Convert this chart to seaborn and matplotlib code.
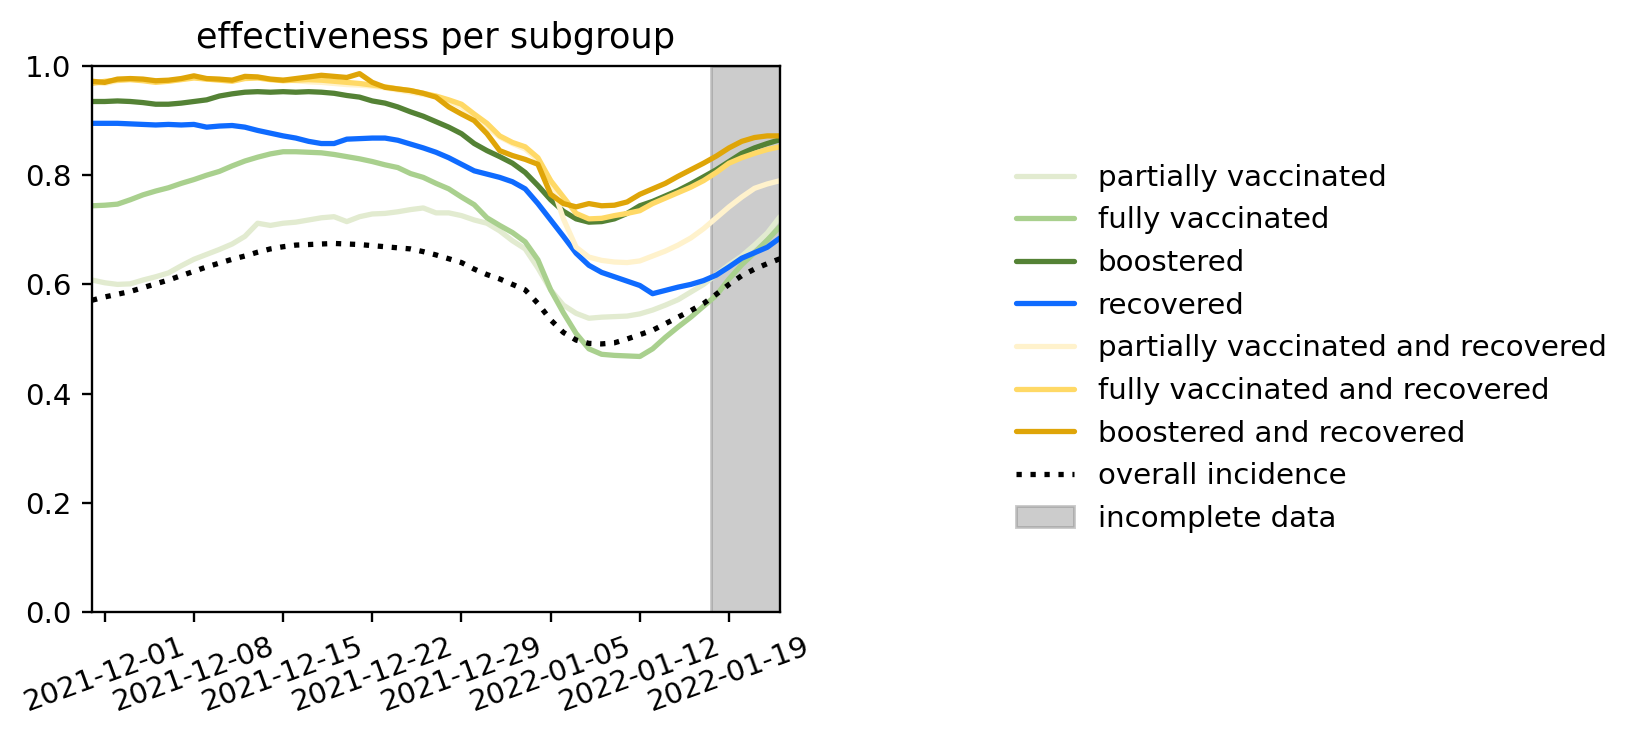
import numpy as np
import pandas as pd
import matplotlib
matplotlib.use("Agg")
import matplotlib.pyplot as plt
import matplotlib.dates as mdates
import seaborn as sns

# daily values, 2021-11-30 .. 2022-01-23
dates = pd.date_range("2021-11-30", "2022-01-23", freq="D")
incomplete_from = pd.Timestamp("2022-01-17 14:00")

partially_vaccinated = [.608, .603, .600, .601, .608, .614, .621, .634, .646, .655, .664, .674, .688, .712,
                        .708, .712, .714, .718, .722, .724, .715, .724, .729, .730, .733, .737, .740, .731,
                        .731, .726, .718, .712, .698, .680, .665, .630, .590, .562, .547, .538, .540, .541,
                        .542, .546, .553, .562, .572, .586, .600, .618, .636, .652, .672, .694, .724]
fully_vaccinated = [.744, .745, .747, .755, .764, .771, .777, .785, .792, .800, .807, .817, .826, .833,
                    .839, .843, .843, .842, .841, .838, .834, .830, .825, .819, .814, .803, .796, .785,
                    .775, .760, .746, .722, .708, .695, .678, .645, .590, .548, .510, .482, .472, .470,
                    .469, .468, .482, .503, .522, .540, .560, .580, .610, .636, .658, .681, .706]
boostered = [.935, .935, .936, .935, .933, .930, .930, .932, .935, .938, .945, .949, .952, .953,
             .952, .953, .952, .953, .952, .950, .946, .943, .936, .932, .925, .916, .908, .898,
             .888, .876, .858, .845, .834, .822, .805, .781, .755, .734, .720, .714, .715, .720,
             .730, .744, .752, .762, .772, .784, .797, .810, .825, .840, .850, .858, .865]
recovered = [.895, .895, .895, .894, .893, .892, .893, .892, .893, .888, .890, .891, .888, .882,
             .877, .872, .868, .862, .858, .858, .866, .867, .868, .868, .864, .857, .850, .842,
             .832, .820, .808, .802, .796, .788, .775, .748, .718, .688, .657, .635, .622, .614,
             .606, .598, .583, .589, .595, .600, .607, .617, .632, .648, .658, .668, .685]
part_vacc_recovered = [.970, .968, .973, .976, .974, .972, .973, .976, .979, .976, .975, .975, .979, .979,
                       .976, .975, .973, .971, .970, .968, .966, .965, .963, .960, .956, .952, .948, .944,
                       .936, .925, .905, .888, .870, .858, .848, .828, .790, .720, .668, .650, .644, .641,
                       .640, .643, .652, .661, .672, .685, .702, .722, .742, .760, .776, .784, .790]
fully_vacc_recovered = [.968, .972, .974, .975, .973, .970, .972, .975, .978, .976, .974, .972, .977, .978,
                        .975, .973, .974, .975, .974, .972, .970, .968, .965, .962, .958, .955, .950, .945,
                        .938, .930, .912, .895, .872, .860, .852, .832, .790, .760, .730, .720, .721, .726,
                        .730, .735, .748, .758, .768, .778, .790, .805, .822, .832, .840, .847, .852]
boostered_recovered = [.972, .970, .976, .977, .976, .973, .974, .977, .982, .977, .976, .974, .981, .980,
                       .976, .974, .977, .980, .983, .981, .979, .986, .970, .961, .958, .955, .950, .943,
                       .925, .912, .900, .876, .845, .836, .829, .820, .765, .748, .742, .748, .744, .745,
                       .751, .765, .775, .785, .798, .810, .822, .835, .850, .862, .869, .872, .872]
overall_incidence = [.571, .577, .582, .587, .594, .601, .608, .616, .624, .632, .639, .646, .652, .659,
                     .665, .669, .672, .673, .674, .675, .674, .673, .671, .669, .667, .665, .660, .654,
                     .647, .640, .628, .618, .610, .600, .590, .565, .535, .512, .498, .492, .491, .493,
                     .500, .508, .516, .528, .540, .552, .565, .582, .600, .616, .628, .638, .647]

series = [
    ("partially vaccinated", partially_vaccinated, "#e2ebd0", "-"),
    ("fully vaccinated", fully_vaccinated, "#a9d08e", "-"),
    ("boostered", boostered, "#548235", "-"),
    ("recovered", recovered, "#0f6bff", "-"),
    ("partially vaccinated and recovered", part_vacc_recovered, "#fff2cc", "-"),
    ("fully vaccinated and recovered", fully_vacc_recovered, "#ffd966", "-"),
    ("boostered and recovered", boostered_recovered, "#dfa508", "-"),
    ("overall incidence", overall_incidence, "black", ":"),
]

sns.set_style("ticks", {"axes.edgecolor": "black", "text.color": "black",
                        "xtick.color": "black", "ytick.color": "black"})

fig = plt.figure(figsize=(1649 / 211, 746 / 211), dpi=211)
ax = fig.add_axes([92 / 1649, 1 - 612 / 746, (780 - 92) / 1649, (612 - 66) / 746])

for name, vals, col, ls in series:
    sns.lineplot(x=dates, y=vals, color=col, linestyle=ls, linewidth=1.8, label=name, ax=ax)

ax.axvspan(incomplete_from, dates[-1], color="grey", alpha=0.4, label="incomplete data")

ax.set_xlim(dates[0], dates[-1])
ax.set_ylim(0, 1)
ax.set_title("effectiveness per subgroup")
ax.xaxis.set_major_locator(mdates.WeekdayLocator(byweekday=mdates.WE))
ax.xaxis.set_major_formatter(mdates.DateFormatter("%Y-%m-%d"))
plt.setp(ax.get_xticklabels(), rotation=20, ha="center")
ax.set_xlabel("")
ax.set_ylabel("")

ax.legend(loc="center left", bbox_to_anchor=(0.600, 0.533), bbox_transform=fig.transFigure,
          frameon=False)

fig.savefig("out.png", dpi=211)
